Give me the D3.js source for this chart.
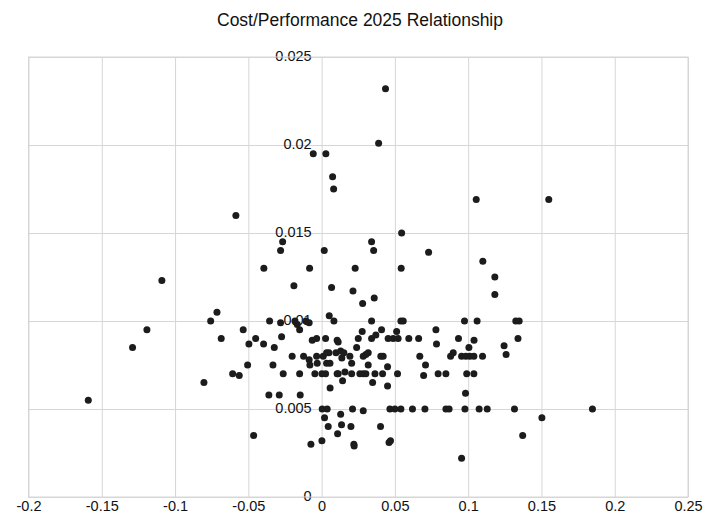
<!DOCTYPE html>
<html>
<head>
<meta charset="utf-8">
<script src="https://cdn.jsdelivr.net/npm/d3@7"></script>
<style>
    body { margin: 0; background: #fff; }
    svg { display: block; font-family: "Liberation Sans", Arial, sans-serif; }
    .grid line { stroke: #d6d6d6; stroke-width: 1; }
    .grid .domain { display: none; }
    .tick text { fill: #111; font-size: 14.5px; }
</style>
</head>
<body>
<div id="chart"></div>
<script>
// x = cost change, y = performance
const costVals = [
    0.0436, 0.0389, -0.0057, 0.0029, 0.0075, 0.0082, -0.0585, 0.0546, -0.0266, -0.0280,
    0.0018, 0.0341, 0.0355, 0.0730, 0.1055, 0.1550, 0.0543, 0.1100, 0.1182, 0.1182,
    -0.1090, -0.0394, -0.0082, -0.0189, 0.0068, 0.0214, 0.0229, 0.0280, 0.0359,
    -0.1192, -0.1290, -0.1592, -0.0714, -0.0757, -0.0685, -0.0803, -0.0535, -0.0450, -0.0496,
    -0.0396, -0.0323, -0.0273, -0.0355, -0.0280, -0.0182, -0.0166, -0.0150, -0.0107, -0.0085,
    -0.0064, -0.0034, 0.0027, -0.0201, -0.0123, -0.0085, -0.0080, -0.0034, -0.0030, 0.0011,
    -0.0505, -0.0332, -0.0607, -0.0562, -0.0262, -0.0150, -0.0046, 0.0002, 0.0027, -0.0360,
    -0.0289, -0.0146, 0.0004, 0.0020, 0.0045, -0.0464, -0.0073, 0.0002, 0.0052, 0.0058,
    0.0034, 0.0050, 0.0098, 0.0034, 0.0057, 0.0106, 0.0038, 0.0084, 0.0341, 0.0541,
    0.0557, 0.0780, 0.0106, 0.0113, 0.0277, 0.0250, 0.0341, 0.0370, 0.0409, 0.0454,
    0.0488, 0.0522, 0.0512, 0.0595, 0.0662, 0.0784, 0.0239, 0.0130, 0.0152, 0.0138,
    0.0193, 0.0284, 0.0302, 0.0318, 0.0404, 0.0420, 0.0670, 0.0709, 0.0205, 0.0318,
    0.0450, 0.0113, 0.0159, 0.0205, 0.0261, 0.0284, 0.0302, 0.0364, 0.0416, 0.0518,
    0.0696, 0.0795, 0.0143, 0.0348, 0.0450, 0.0211, 0.0284, 0.0466, 0.0500, 0.0541,
    0.0620, 0.0705, 0.0130, 0.0136, 0.0109, 0.0200, 0.0402, 0.0220, 0.0222, 0.0460,
    0.0470, 0.0848, 0.0870, 0.0978, 0.1075, 0.1130, 0.0955, 0.0975, 0.1061, 0.1325,
    0.1348, 0.0934, 0.1040, 0.1005, 0.1245, 0.1259, 0.1340, 0.0880, 0.0898, 0.0955,
    0.0984, 0.1011, 0.1039, 0.1098, 0.0848, 0.0990, 0.1039, 0.0982, 0.1316, 0.1848,
    0.1503, 0.1372
];
const perfVals = [
    0.0232, 0.0201, 0.0195, 0.0195, 0.0182, 0.0175, 0.0160, 0.0150, 0.0145, 0.0140,
    0.0140, 0.0145, 0.0140, 0.0139, 0.0169, 0.0169, 0.0130, 0.0134, 0.0125, 0.0115,
    0.0123, 0.0130, 0.0130, 0.0120, 0.0119, 0.0117, 0.0130, 0.0110, 0.0113,
    0.0095, 0.0085, 0.0055, 0.0105, 0.0100, 0.0090, 0.0065, 0.0095, 0.0090, 0.0087,
    0.0087, 0.0085, 0.0091, 0.0100, 0.0099, 0.0100, 0.0098, 0.0095, 0.0100, 0.0099,
    0.0089, 0.0090, 0.0090, 0.0080, 0.0080, 0.0078, 0.0075, 0.0080, 0.0076, 0.0080,
    0.0075, 0.0075, 0.0070, 0.0069, 0.0070, 0.0070, 0.0070, 0.0070, 0.0070, 0.0058,
    0.0058, 0.0058, 0.0050, 0.0045, 0.0040, 0.0035, 0.0030, 0.0032, 0.0103, 0.0062,
    0.0082, 0.0082, 0.0082, 0.0076, 0.0076, 0.0070, 0.0050, 0.0100, 0.0100, 0.0100,
    0.0100, 0.0095, 0.0089, 0.0088, 0.0094, 0.0090, 0.0090, 0.0092, 0.0095, 0.0090,
    0.0090, 0.0090, 0.0094, 0.0090, 0.0090, 0.0087, 0.0085, 0.0083, 0.0082, 0.0079,
    0.0080, 0.0080, 0.0081, 0.0082, 0.0080, 0.0080, 0.0080, 0.0075, 0.0076, 0.0075,
    0.0074, 0.0070, 0.0071, 0.0070, 0.0070, 0.0070, 0.0070, 0.0070, 0.0070, 0.0070,
    0.0069, 0.0070, 0.0066, 0.0065, 0.0063, 0.0050, 0.0049, 0.0050, 0.0050, 0.0050,
    0.0050, 0.0050, 0.0047, 0.0041, 0.0036, 0.0040, 0.0040, 0.0030, 0.0029, 0.0031,
    0.0032, 0.0050, 0.0050, 0.0050, 0.0050, 0.0050, 0.0022, 0.0100, 0.0100, 0.0100,
    0.0100, 0.0090, 0.0089, 0.0085, 0.0086, 0.0081, 0.0090, 0.0080, 0.0082, 0.0080,
    0.0080, 0.0080, 0.0080, 0.0080, 0.0070, 0.0070, 0.0070, 0.0059, 0.0050, 0.0050,
    0.0045, 0.0035
];

const xTicks = [-0.2, -0.15, -0.1, -0.05, 0, 0.05, 0.1, 0.15, 0.2, 0.25];
const xTickLabels = ["-0.2", "-0.15", "-0.1", "-0.05", "0", "0.05", "0.1", "0.15", "0.2", "0.25"];
const yTicks = [0, 0.005, 0.01, 0.015, 0.02, 0.025];
const yTickLabels = ["0", "0.005", "0.01", "0.015", "0.02", "0.025"];

const chartTitle = "Cost/Performance 2025 Relationship";

const width = 719, height = 518;
const margin = { top: 57, right: 31, bottom: 21, left: 28.5 };

const points = costVals.map((c, i) => ({ cost: c, perf: perfVals[i] }));

const svg = d3.select("#chart")
    .append("svg")
    .attr("width", width)
    .attr("height", height);

const x = d3.scaleLinear()
    .domain([-0.2, 0.25])
    .range([margin.left, width - margin.right]);

const y = d3.scaleLinear()
    .domain([0, 0.025])
    .range([height - margin.bottom, margin.top]);

// vertical grid + x labels
svg.append("g")
    .attr("class", "grid")
    .attr("transform", `translate(0, ${y(0)})`)
    .call(d3.axisBottom(x)
        .tickValues(xTicks)
        .tickFormat((d, i) => xTickLabels[i])
        .tickSizeInner(-(y(0) - y(0.025)))
        .tickSizeOuter(0)
        .tickPadding(4));

// horizontal grid
svg.append("g")
    .attr("class", "grid")
    .attr("transform", `translate(${x(-0.2)}, 0)`)
    .call(d3.axisLeft(y)
        .tickValues(yTicks)
        .tickFormat("")
        .tickSizeInner(-(x(0.25) - x(-0.2)))
        .tickSizeOuter(0));

// y labels sit on the zero line
svg.append("g")
    .attr("class", "grid ylabels")
    .attr("transform", `translate(${x(0)}, 0)`)
    .call(d3.axisLeft(y)
        .tickValues(yTicks)
        .tickFormat((d, i) => yTickLabels[i])
        .tickSize(0)
        .tickPadding(10))
    .selectAll("text")
    .attr("dy", "0.22em");

// frame
svg.append("rect")
    .attr("x", x(-0.2))
    .attr("y", y(0.025))
    .attr("width", x(0.25) - x(-0.2))
    .attr("height", y(0) - y(0.025))
    .attr("fill", "none")
    .attr("stroke", "#d6d6d6");

svg.append("g")
    .selectAll("circle")
    .data(points)
    .enter()
    .append("circle")
    .attr("cx", d => x(d.cost))
    .attr("cy", d => y(d.perf))
    .attr("r", 3.5)
    .attr("fill", "#1c1c1c");

svg.append("text")
    .attr("x", 360)
    .attr("y", 26)
    .attr("text-anchor", "middle")
    .attr("fill", "#111")
    .style("font-size", "17.5px")
    .text(chartTitle);
</script>
</body>
</html>
